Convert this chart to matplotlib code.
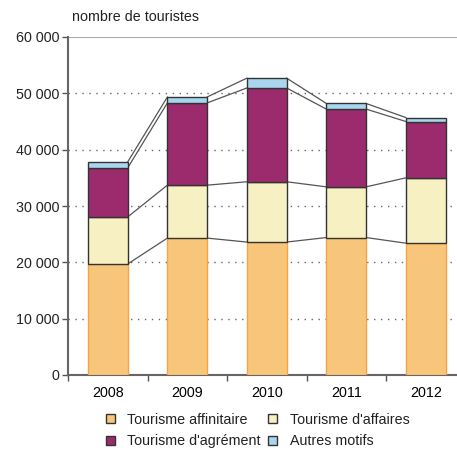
import numpy as np
import matplotlib.pyplot as plt

plt.rcParams['font.family'] = ['Liberation Sans', 'DejaVu Sans']

# Data
years = ['2008', '2009', '2010', '2011', '2012']
affinitaire = [19700, 24300, 23600, 24400, 23400]
affaires = [8350, 9400, 10700, 9000, 11600]
agrement = [8700, 14600, 16650, 13800, 10000]
autres = [1050, 1050, 1750, 1000, 700]

series = [affinitaire, affaires, agrement, autres]
labels = ["Tourisme affinitaire", "Tourisme d'affaires",
          "Tourisme d'agrément", "Autres motifs"]
colors = ['#f8c67a', '#f7f0c2', '#9c2b6e', '#a9d5ee']
edges = ['#f4a444', '#333333', '#333333', '#333333']

fig = plt.figure(figsize=(4.57, 4.5), dpi=100)
ax = fig.add_axes([68 / 457, 1 - 375 / 450, 397.5 / 457, 338 / 450])

x = np.arange(len(years))
w = 0.5
bottom = np.zeros(len(years))
handles = []
for vals, lab, c, ec in zip(series, labels, colors, edges):
    vals = np.array(vals)
    b = ax.bar(x, vals, w, bottom=bottom, color=c, edgecolor=ec,
               linewidth=1.0, zorder=3, label=lab)
    handles.append(b)
    top = bottom + vals
    # lines joining the tops of the segments
    for i in range(len(years) - 1):
        ax.plot([x[i] + w / 2, x[i + 1] - w / 2], [top[i], top[i + 1]],
                color='#555555', lw=0.9, zorder=2)
    bottom = top

ax.set_xlim(-0.5, 4.5)
ax.set_ylim(0, 60000)
ax.set_yticks(np.arange(0, 60001, 10000))
ax.set_yticklabels(['0', '10 000', '20 000', '30 000', '40 000', '50 000', '60 000'])
ax.set_xticks(np.arange(-0.5, 5, 1))
ax.set_xticklabels([])
ax.set_xticks(x, minor=True)
ax.set_xticklabels(years, minor=True)
ax.tick_params(axis='x', which='minor', length=0, pad=8, labelsize=10.3)
ax.tick_params(axis='x', which='major', length=4, color='#555555', width=1)
ax.tick_params(axis='y', length=4, color='#555555', width=1, labelsize=10.3,
               labelcolor='#222222', pad=2)
ax.tick_params(axis='x', labelcolor='#222222')

for v in range(10000, 60000, 10000):
    ax.axhline(v, color='#666666', lw=1, ls=(0, (1, 4)), zorder=1)
ax.axhline(60000, color='#aaaaaa', lw=1.5, zorder=1)

for s in ['top', 'right']:
    ax.spines[s].set_visible(False)
for s in ['left', 'bottom']:
    ax.spines[s].set_color('#666666')
    ax.spines[s].set_linewidth(1.5)

fig.text(72 / 457, 1 - 17 / 450, 'nombre de touristes', fontsize=10.3,
         color='#222222', va='center', ha='left')

# legend filled row by row
order = [0, 2, 1, 3]
leg = fig.legend([handles[i] for i in order], [labels[i] for i in order],
                 ncol=2, loc='upper left', frameon=False,
                 bbox_to_anchor=(106 / 457, 1 - 413 / 450), borderaxespad=0,
                 borderpad=0, fontsize=10.3,
                 handlelength=0.6, handleheight=0.6, handletextpad=0.9,
                 columnspacing=0.5, labelspacing=0.5)
for p in leg.get_patches():
    p.set_edgecolor('#333333')
    p.set_linewidth(1.0)
for t in leg.get_texts():
    t.set_color('#222222')

fig.savefig('out.png', dpi=100)
